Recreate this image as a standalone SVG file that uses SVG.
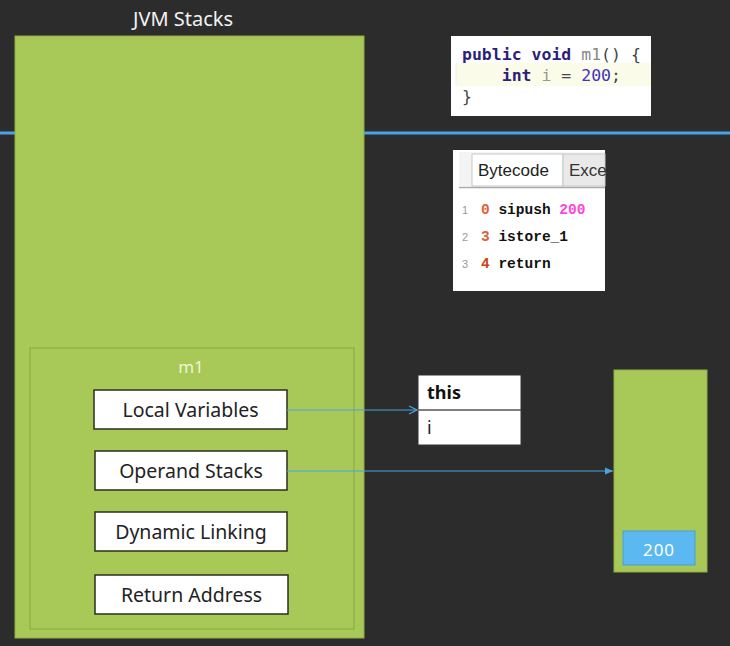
<svg xmlns="http://www.w3.org/2000/svg" width="730" height="646" viewBox="0 0 730 646">
<style>
.sans{font-family:"Noto Sans","Open Sans","Liberation Sans",sans-serif}
.box{fill:#ffffff;stroke:#2a2f1e;stroke-width:1.5}
.lbl{font-size:19.5px;fill:#222;text-anchor:middle}
.green{fill:#a8c857;stroke:#8fae43;stroke-width:1}
.mono{font-family:"DejaVu Sans Mono","Liberation Mono",monospace}
.bc{font-family:"Liberation Mono","Courier New",monospace;font-weight:bold;font-size:14.5px;fill:#111}
.conn{stroke:#4aa3e0;stroke-width:1;fill:none}
</style>
<defs>
<marker id="open" markerWidth="10" markerHeight="10" refX="9" refY="5" orient="auto" markerUnits="userSpaceOnUse">
<path d="M1,1 L9,5 L1,9" fill="none" stroke="#4aa3e0" stroke-width="1.2"/>
</marker>
<marker id="fill" markerWidth="10" markerHeight="10" refX="9" refY="5" orient="auto" markerUnits="userSpaceOnUse">
<path d="M1,1.5 L9,5 L1,8.5 Z" fill="#4aa3e0"/>
</marker>
</defs>
<rect x="0" y="0" width="730" height="646" fill="#2c2c2c"/>
<g id="divider">
<line x1="0" y1="133" x2="730" y2="133" stroke="#4aa3e8" stroke-width="3"/>
</g>
<g id="jvm-stacks">
<text x="183" y="26" class="sans" font-size="20" fill="#f2f2f2" text-anchor="middle">JVM Stacks</text>
<rect x="15" y="36" width="349" height="602" class="green"/>
</g>
<g id="m1-frame">
<rect x="30" y="348" width="324" height="281" fill="none" stroke="#8fae43" stroke-width="1.2"/>
<text x="191" y="373" class="sans" font-size="17" fill="#eef4d4" text-anchor="middle">m1</text>
</g>
<g id="local-variables">
<rect x="94" y="390" width="193" height="39" class="box"/>
<text x="190.5" y="416.5" class="sans lbl">Local Variables</text>
</g>
<g id="operand-stacks">
<rect x="95" y="451" width="192" height="39" class="box"/>
<text x="191" y="477.5" class="sans lbl">Operand Stacks</text>
</g>
<g id="dynamic-linking">
<rect x="95" y="512" width="192" height="39" class="box"/>
<text x="191" y="538.5" class="sans lbl">Dynamic Linking</text>
</g>
<g id="return-address">
<rect x="95" y="575" width="193" height="39" class="box"/>
<text x="191.5" y="601.5" class="sans lbl">Return Address</text>
</g>
<g id="locals-table">
<rect x="418" y="375" width="103" height="70" fill="#ffffff" stroke="#333" stroke-width="1"/>
<line x1="418" y1="410" x2="521" y2="410" stroke="#555" stroke-width="1.5"/>
<text x="427" y="399" class="sans" font-size="18" font-weight="bold" fill="#111">this</text>
<text x="427" y="434" class="sans" font-size="18" fill="#222">i</text>
</g>
<g id="operand-stack">
<rect x="614" y="370" width="93" height="202" class="green"/>
<rect x="623" y="531" width="72" height="34" fill="#5bb8f0" stroke="#4b9fd0" stroke-width="1"/>
<text x="659" y="556" class="sans" font-size="17" letter-spacing="1" fill="#ffffff" text-anchor="middle">200</text>
</g>
<g id="source-code">
<rect x="451" y="36" width="200" height="80" fill="#ffffff"/>
<rect x="456" y="63" width="195" height="23" fill="#fbfbe9"/>
<line x1="456" y1="63" x2="456" y2="86" stroke="#eee" stroke-width="1"/>
<text x="462" y="60" class="mono" font-size="16.5"><tspan font-weight="bold" fill="#2b1f7a">public void</tspan><tspan fill="#888"> m1</tspan><tspan fill="#444">() {</tspan></text>
<text x="462" y="81" class="mono" font-size="16.5" xml:space="preserve"><tspan fill="#444">    </tspan><tspan font-weight="bold" fill="#2b1f7a">int</tspan><tspan fill="#999"> i</tspan><tspan fill="#444"> = </tspan><tspan fill="#4433bb">200</tspan><tspan fill="#444">;</tspan></text>
<text x="462" y="102" class="mono" font-size="16.5" fill="#444">}</text>
</g>
<g id="bytecode">
<rect x="453" y="150" width="152" height="141" fill="#ffffff"/>
<rect x="459" y="152" width="146" height="34" fill="#f4f4f4"/>
<rect x="472" y="154" width="91" height="32" fill="#ffffff" stroke="#c8c8c8" stroke-width="1"/>
<rect x="563" y="154" width="42" height="32" fill="#e9e9e9" stroke="#c8c8c8" stroke-width="1"/>
<line x1="459" y1="187.5" x2="605" y2="187.5" stroke="#aaa" stroke-width="1.5"/>
<text x="478" y="176" font-family="'Liberation Sans',Arial,sans-serif" font-size="17" fill="#222">Bytecode</text>
<text x="569" y="176" font-family="'Liberation Sans',Arial,sans-serif" font-size="17" fill="#333">Exce</text>
<g font-family="'Liberation Sans',Arial,sans-serif" font-size="11" fill="#999">
<text x="462" y="214">1</text>
<text x="462" y="241">2</text>
<text x="462" y="268">3</text>
</g>
<g class="bc">
<text x="481" y="214"><tspan fill="#e0603a">0</tspan> sipush <tspan fill="#ff44dd">200</tspan></text>
<text x="481" y="241"><tspan fill="#e0603a">3</tspan> istore_1</text>
<text x="481" y="268"><tspan fill="#d04010">4</tspan> return</text>
</g>
</g>
<g id="connectors">
<line x1="287" y1="410" x2="417" y2="410" class="conn" marker-end="url(#open)"/>
<line x1="287" y1="471" x2="613" y2="471" class="conn" marker-end="url(#fill)"/>
</g>
</svg>
